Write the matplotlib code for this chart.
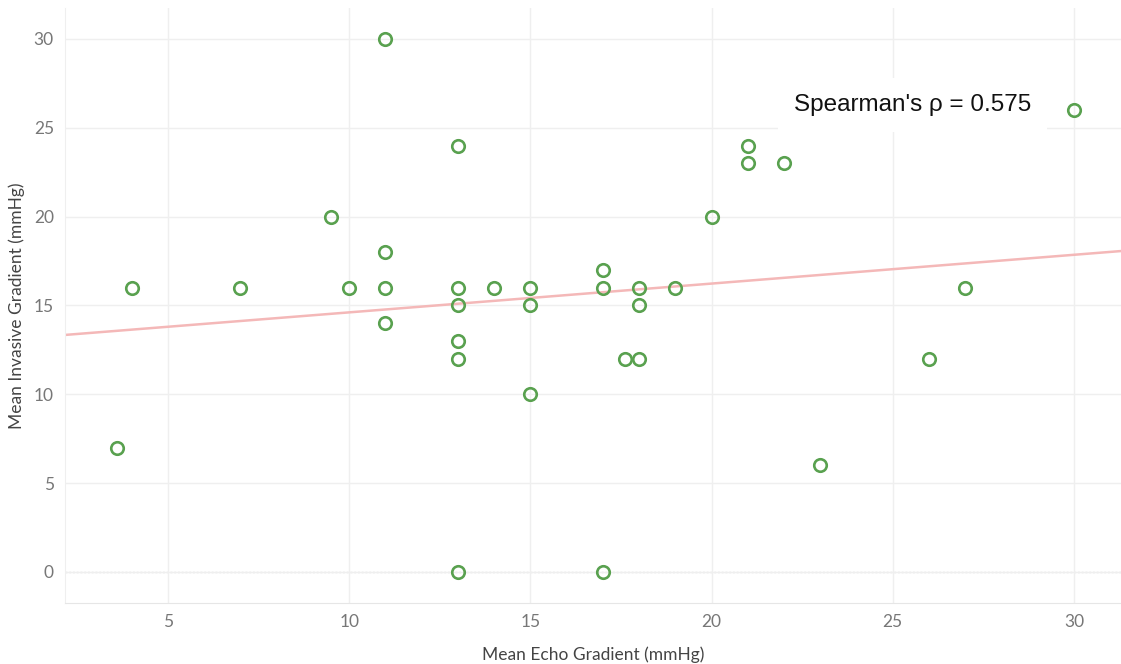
import matplotlib
matplotlib.use("Agg")
import matplotlib.pyplot as plt

# mean echo gradient vs mean invasive gradient (mmHg)
echo = [3.6, 4, 7, 9.5, 10, 11, 11, 11, 11, 13, 13, 13, 13, 13, 13, 14,
        15, 15, 15, 17, 17, 17, 17.6, 18, 18, 18, 19, 20, 21, 21, 22, 23,
        26, 27, 30]
invasive = [7, 16, 16, 20, 16, 30, 18, 16, 14, 24, 16, 15, 13, 12, 0, 16,
            16, 15, 10, 17, 16, 0, 12, 16, 15, 12, 16, 20, 24, 23, 23, 6,
            12, 16, 26]

# linear trend line as drawn (intercept, slope)
trend_b0, trend_b1 = 12.99, 0.162
rho_text = "Spearman's \u03c1 = 0.575"

xmin, xmax = 2.16, 31.3
ymin, ymax = -1.74, 31.74

fig = plt.figure(figsize=(11.21, 6.64), dpi=100)
ax = fig.add_axes([0.058, 0.092, 0.942, 0.896])

ax.set_xlim(xmin, xmax)
ax.set_ylim(ymin, ymax)
ax.set_xticks([5, 10, 15, 20, 25, 30])
ax.set_yticks([0, 5, 10, 15, 20, 25, 30])

ax.grid(True, color="#efefef", lw=1.0, zorder=0)
for sp in ("top", "right"):
    ax.spines[sp].set_visible(False)
ax.spines["left"].set_color("#efefef")
ax.spines["bottom"].set_color("#e6e6e6")
ax.tick_params(length=0, labelsize=12.5, labelcolor="#777777", pad=8)
for lab in ax.get_xticklabels() + ax.get_yticklabels():
    lab.set_family("Lato")

# zero reference line
ax.axhline(0, color="#b8b8b8", lw=0.9, ls=(0, (1.5, 1.5)), zorder=1)

ax.plot([xmin, xmax], [trend_b0 + trend_b1 * xmin, trend_b0 + trend_b1 * xmax],
        color="#f4b8b8", lw=1.8, zorder=2)

ax.plot(echo, invasive, "o", ms=9, mfc="none", mec="#59a14f", mew=1.9, zorder=4)

ax.text(25.55, 26.28, rho_text, ha="center", va="center", fontsize=17.5,
        family="Liberation Sans", color="#111111", zorder=3,
        bbox=dict(boxstyle="square,pad=0.65", fc="white", ec="none"))

ax.set_xlabel("Mean Echo Gradient (mmHg)", fontsize=12.5, color="#444444",
              family="Lato", labelpad=12)
ax.set_ylabel("Mean Invasive Gradient (mmHg)", fontsize=12.5, color="#444444",
              family="Lato", labelpad=6)

fig.savefig("out.png", dpi=100)
